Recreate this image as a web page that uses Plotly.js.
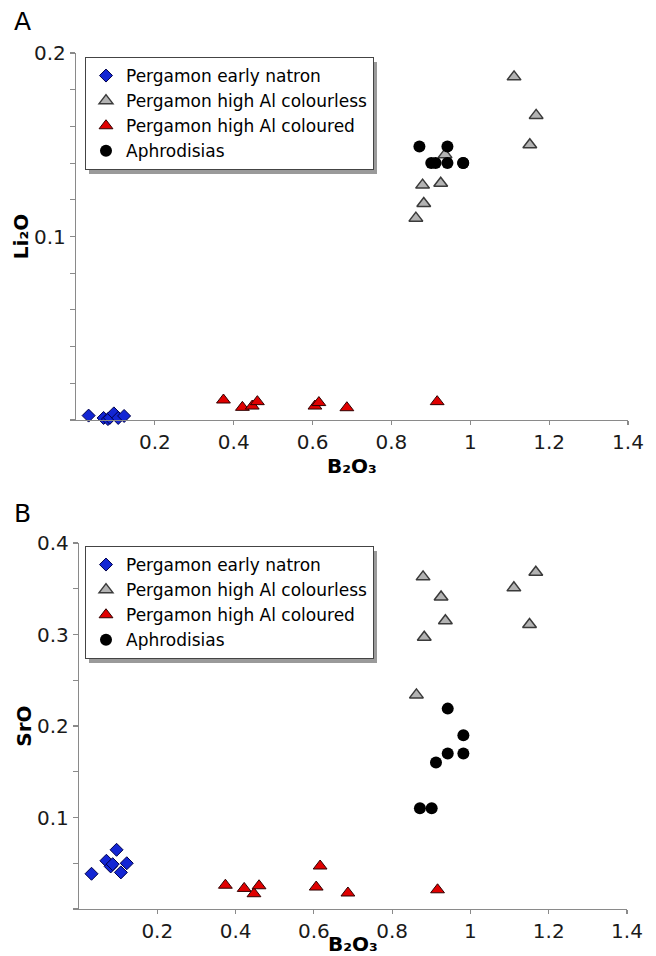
<!DOCTYPE html>
<html>
<head>
<meta charset="utf-8">
<script src="https://cdn.plot.ly/plotly-3.0.1.min.js"></script>
<style>html,body{margin:0;padding:0;background:#fff;}#chart{width:656px;height:956px;}</style>
</head>
<body>
<div id="chart"></div>
<script>
// ---- Data ----
const seriesNames = ["Pergamon early natron", "Pergamon high Al colourless", "Pergamon high Al coloured", "Aphrodisias"];

const earlyB2O3 = [0.032, 0.070, 0.081, 0.086, 0.096, 0.107, 0.122];
const earlyLi2O = [0.0024, 0.0011, 0.0005, 0.0012, 0.0036, 0.0011, 0.0022];
const earlySrO  = [0.0385, 0.0527, 0.0465, 0.049, 0.0647, 0.040, 0.050];

const colourlessB2O3 = [0.862, 0.879, 0.882, 0.925, 0.936, 1.111, 1.151, 1.167];
const colourlessLi2O = [0.110, 0.128, 0.118, 0.129, 0.1446, 0.187, 0.150, 0.166];
const colourlessSrO  = [0.234, 0.363, 0.297, 0.341, 0.315, 0.351, 0.311, 0.368];

const colouredB2O3 = [0.374, 0.422, 0.447, 0.460, 0.606, 0.616, 0.687, 0.916];
const colouredLi2O = [0.0109, 0.0069, 0.0076, 0.0100, 0.0076, 0.0095, 0.0067, 0.0100];
const colouredSrO  = [0.026, 0.0225, 0.0167, 0.0254, 0.024, 0.047, 0.0175, 0.021];

const aphB2O3 = [0.871, 0.901, 0.912, 0.942, 0.942, 0.982, 0.982];
const aphLi2O = [0.149, 0.140, 0.140, 0.149, 0.140, 0.140, 0.140];
const aphSrO  = [0.110, 0.110, 0.160, 0.219, 0.170, 0.170, 0.190];

const xTickVals = [0.2, 0.4, 0.6, 0.8, 1, 1.2, 1.4];
const xTickText = ["0.2", "0.4", "0.6", "0.8", "1", "1.2", "1.4"];
const yTopTickVals = [0.1, 0.2];
const yTopTickText = ["0.1", "0.2"];
const yBotTickVals = [0.1, 0.2, 0.3, 0.4];
const yBotTickText = ["0.1", "0.2", "0.3", "0.4"];

const xTitle = "B\u2082O\u2083";
const yTopTitle = "Li\u2082O";
const yBotTitle = "SrO";

// ---- Styles ----
const FONT = "DejaVu Sans, Liberation Sans, Arial, sans-serif";
const styles = [
  {symbol: "diamond", size: 10, color: "#1326d4", line: {color: "#00004a", width: 1}},
  {symbol: "triangle-up", size: 12, color: "#b3b3b3", line: {color: "#3a3a3a", width: 1.5}},
  {symbol: "triangle-up", size: 12, color: "#e00000", line: {color: "#300000", width: 1}},
  {symbol: "circle", size: 12, color: "#000000", line: {color: "#000000", width: 0}}
];

function mk(x, y, i, xa, ya, leg) {
  return {
    type: "scatter", mode: "markers", x: x, y: y, name: seriesNames[i],
    xaxis: xa, yaxis: ya, legend: leg, cliponaxis: false,
    marker: styles[i], hoverinfo: "x+y"
  };
}

const data = [
  mk(earlyB2O3, earlyLi2O, 0, "x", "y", "legend"),
  mk(colourlessB2O3, colourlessLi2O, 1, "x", "y", "legend"),
  mk(colouredB2O3, colouredLi2O, 2, "x", "y", "legend"),
  mk(aphB2O3, aphLi2O, 3, "x", "y", "legend"),
  mk(earlyB2O3, earlySrO, 0, "x2", "y2", "legend2"),
  mk(colourlessB2O3, colourlessSrO, 1, "x2", "y2", "legend2"),
  mk(colouredB2O3, colouredSrO, 2, "x2", "y2", "legend2"),
  mk(aphB2O3, aphSrO, 3, "x2", "y2", "legend2")
];

const AXC = "#8a8a8a";
const axisCommon = {
  showline: true, linecolor: AXC, linewidth: 1.2,
  ticks: "outside", tickcolor: AXC, ticklen: 5, tickwidth: 1.2,
  showgrid: false, zeroline: false,
  tickfont: {family: FONT, size: 20, color: "#1a1a1a"},
  tickmode: "array"
};
function minorTicks(d) {
  return {tickmode: "linear", tick0: 0, dtick: d, ticks: "outside", ticklen: 5, tickcolor: AXC, tickwidth: 1.2, showgrid: false};
}
const titleFont = {family: FONT, size: 20, color: "#000", weight: "bold"};

function legendCfg(y) {
  return {
    x: 0.0163, y: y, xanchor: "left", yanchor: "top", xref: "paper", yref: "paper",
    bgcolor: "#ffffff", bordercolor: "#444444", borderwidth: 1,
    font: {family: FONT, size: 17, color: "#000"},
    tracegroupgap: 0, itemwidth: 30
  };
}

const PL = 76, PT = 53, PW = 552, PH = 856;
function px2x(px) { return (px - PL) / PW; }
function px2y(py) { return (PT + PH - py) / PH; }

const layout = {
  width: 656, height: 956,
  margin: {l: PL, r: 656 - PL - PW, t: PT, b: 956 - PT - PH},
  paper_bgcolor: "#ffffff", plot_bgcolor: "#ffffff",
  font: {family: FONT, color: "#000"},
  showlegend: true,
  xaxis: Object.assign({}, axisCommon, {domain: [0, 1], anchor: "y", range: [0, 1.4],
    tickvals: xTickVals, ticktext: xTickText, ticklen: 4,
    title: {text: xTitle, font: titleFont, standoff: 0}}),
  yaxis: Object.assign({}, axisCommon, {domain: [px2y(420), 1], anchor: "x", range: [0, 0.2],
    tickvals: yTopTickVals, ticktext: yTopTickText, minor: minorTicks(0.02),
    title: {text: yTopTitle, font: titleFont, standoff: 0}}),
  xaxis2: Object.assign({}, axisCommon, {domain: [px2x(79), px2x(627)], anchor: "y2", range: [0, 1.4],
    tickvals: xTickVals, ticktext: xTickText, ticklen: 4,
    title: {text: xTitle, font: titleFont, standoff: 2}}),
  yaxis2: Object.assign({}, axisCommon, {domain: [0, px2y(543)], anchor: "x2", range: [0, 0.4],
    tickvals: yBotTickVals, ticktext: yBotTickText, minor: minorTicks(0.05),
    title: {text: yBotTitle, font: titleFont, standoff: 0}}),
  legend: legendCfg(px2y(57)),
  legend2: legendCfg(px2y(546)),
  annotations: [
    {text: "A", xref: "paper", yref: "paper", x: px2x(22), y: px2y(22), xanchor: "center", yanchor: "middle",
     showarrow: false, font: {family: FONT, size: 25, color: "#000"}},
    {text: "B", xref: "paper", yref: "paper", x: px2x(22), y: px2y(513), xanchor: "center", yanchor: "middle",
     showarrow: false, font: {family: FONT, size: 25, color: "#000"}}
  ]
};

Plotly.newPlot("chart", data, layout, {displayModeBar: false, staticPlot: true}).then(function (gd) {
  // drop shadow behind each legend box, as in the reference
  gd.querySelectorAll("g.legend, g.legend2").forEach(function (g) {
    const bg = g.querySelector("rect.bg");
    if (!bg) return;
    const sh = bg.cloneNode(false);
    sh.setAttribute("class", "legend-shadow");
    sh.style.fill = "#9a9a9a";
    sh.style.stroke = "none";
    sh.setAttribute("transform", "translate(4,4)");
    bg.parentNode.insertBefore(sh, bg);
  });
});
</script>
</body>
</html>
